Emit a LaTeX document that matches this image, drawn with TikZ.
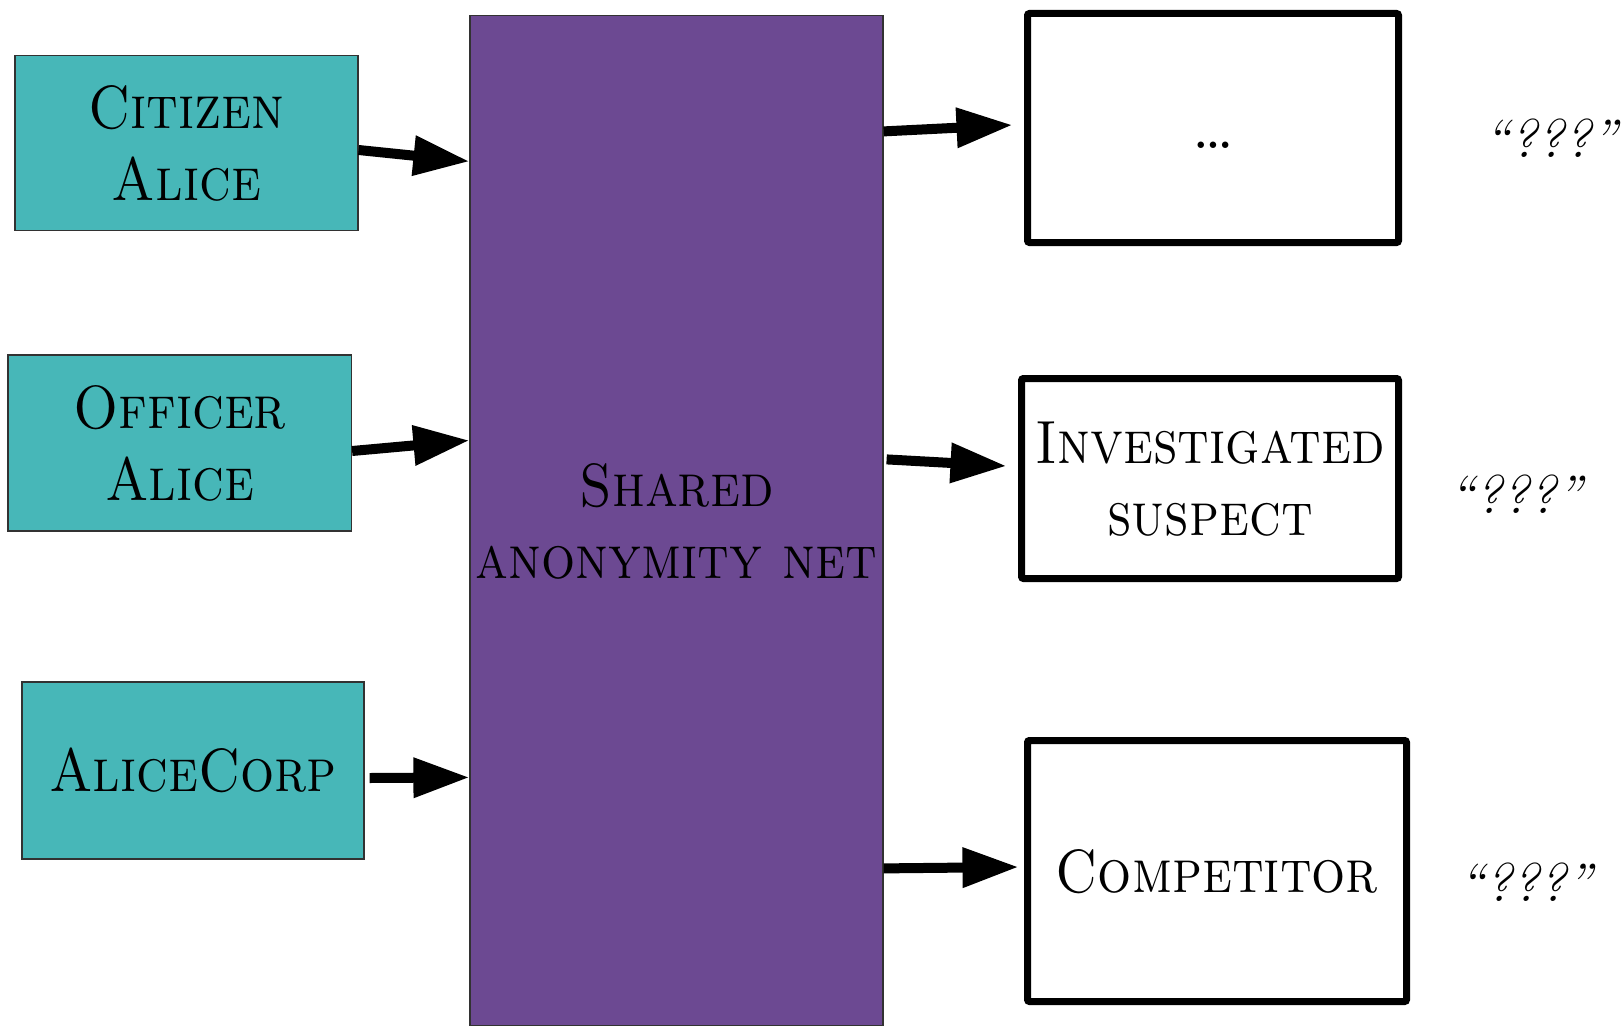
\documentclass[tikz,border=0pt]{standalone}
\usepackage{graphicx}
\usetikzlibrary{arrows.meta,calc}
\definecolor{tealfill}{RGB}{71,183,184}
\definecolor{netfill}{RGB}{108,73,146}
\definecolor{edgegray}{RGB}{50,50,50}
% condensed small-caps block of centred lines, set a little low
\newcommand{\boxtext}[1]{\raisebox{-7pt}[\height][\depth]{%
  \scalebox{0.88}[1]{\begin{tabular}{@{}c@{}}#1\end{tabular}}}}
\begin{document}
\begin{tikzpicture}[x=1pt,y=-1pt,
  label font/.style={font=\fontsize{61}{72}\selectfont\scshape},
  source/.style={draw=edgegray,line width=1.2pt,fill=tealfill,inner sep=0pt,
    label font},
  target/.style={draw=black,line width=7pt,rounded corners=2pt,fill=white,
    inner sep=0pt,label font},
  guess/.style={font=\fontsize{54}{64}\selectfont\itshape,inner sep=0pt},
  flow/.style={line width=10pt,-{Triangle[length=56pt,width=38pt]}}]
  \useasboundingbox (0,0) rectangle (1621,1025);
  \clip (0,0) rectangle (1621,1025);

  % senders
  \node[source,minimum width=343pt,minimum height=175.5pt] (citizen)
    at (186.5,143) {\boxtext{Citizen\\Alice}};
  \node[source,minimum width=343.5pt,minimum height=176pt] (officer)
    at (179.75,443) {\boxtext{Officer\\Alice}};
  \node[source,minimum width=342pt,minimum height=177pt] (alicecorp)
    at (193,770.5) {\boxtext{AliceCorp}};

  % shared network
  \node[draw=edgegray,line width=1.2pt,fill=netfill,inner sep=0pt,
    label font,minimum width=413pt,minimum height=1010.5pt] (net)
    at (676.5,520.75) {\boxtext{Shared\\anonymity net}};

  % receivers
  \node[target,minimum width=371pt,minimum height=229pt,
    text height=40pt,text depth=0pt] (dots)
    at (1213,128) {\dots};
  \node[target,minimum width=377pt,minimum height=200pt] (suspect)
    at (1210,478.5) {\boxtext{Investigated\\suspect}};
  \node[target,minimum width=379pt,minimum height=261pt] (competitor)
    at (1217,871) {\boxtext{Competitor}};

  % unknown labels
  \node[guess] (q1) at (1551,138) {“???”};
  \node[guess] (q2) at (1516,494) {“???”};
  \node[guess] (q3) at (1526,882) {“???”};

  % connectors
  \draw[flow] ($(citizen.east)+(0,7)$) -- ($(net.north west)+(0,146.5)$);
  \draw[flow] ($(officer.east)+(0,8)$) -- ($(net.north west)+(0,425.5)$);
  \draw[flow] ($(alicecorp.east)+(5,7.5)$) -- ($(net.north west)+(0,762.5)$);
  \draw[flow] ($(net.north east)+(0,116.5)$) -- ($(dots.west)+(-11.5,-3)$);
  \draw[flow] ($(net.north east)+(3,444.5)$) -- ($(suspect.west)+(-11.5,-12.5)$);
  \draw[flow] ($(net.north east)+(0,853.5)$) -- ($(competitor.west)+(-5.5,-4)$);
\end{tikzpicture}
\end{document}
